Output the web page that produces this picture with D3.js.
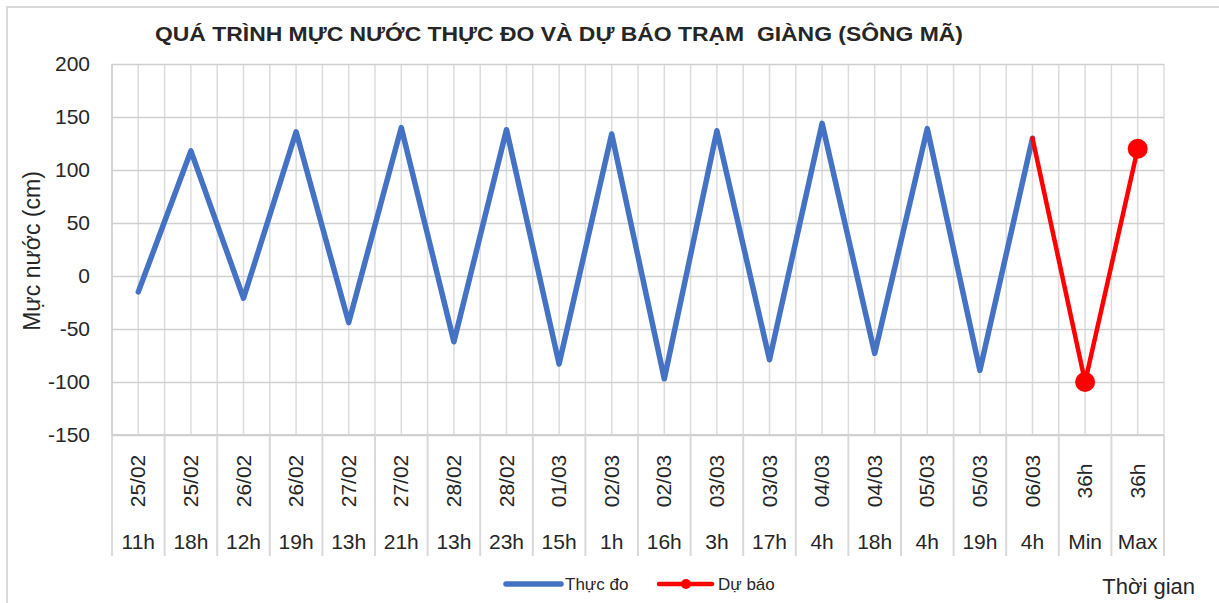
<!DOCTYPE html>
<html lang="vi">
<head>
<meta charset="UTF-8">
<title>Giàng</title>
<style>
  body { margin: 0; background: #fff; }
  text { font-family: "Liberation Sans", Arial, sans-serif; fill: #262626; }
</style>
</head>
<body>
<script src="https://d3js.org/d3.v7.min.js"></script>
<script>
	// ngay / gio (2 tang nhan truc x)
	var dates = ["25/02","25/02","26/02","26/02","27/02","27/02","28/02","28/02","01/03","02/03",
	             "02/03","03/03","03/03","04/03","04/03","05/03","05/03","06/03","36h","36h"];
	var hours = ["11h","18h","12h","19h","13h","21h","13h","23h","15h","1h",
	             "16h","3h","17h","4h","18h","4h","19h","4h","Min","Max"];
	// muc nuoc thuc do (cm)
	var thucDo = [-15,118,-21,136,-44,140,-62,138,-83,134,-97,137,-79,144,-73,139,-89,130];
	// du bao: bat dau tu diem thuc do cuoi
	var duBaoIdx = [17,18,19];
	var duBao = [130,-100,120];
	var yTicks = [-150,-100,-50,0,50,100,150,200];

	var width = 1219, height = 603;
	var plot = {left: 112, right: 1164, top: 64, bottom: 435};

	var svg = d3.select("body").append("svg")
		.attr("width", width).attr("height", height);

	// khung ngoai
	svg.append("rect").attr("x",7).attr("y",7).attr("width",1300).attr("height",700)
		.attr("fill","none").attr("stroke","#d9d9d9").attr("stroke-width",2);

	var x = d3.scaleBand().domain(d3.range(dates.length)).range([plot.left, plot.right]);
	var bw = x.bandwidth();
	var cx = function(i){ return x(i) + bw/2; };
	var y = d3.scaleLinear().domain([-150,200]).range([plot.bottom, plot.top]);

	// luoi doc: ranh gioi va tam moi o
	var vlines = [];
	for(var i=0;i<dates.length;i++){ vlines.push(x(i)); vlines.push(cx(i)); }
	vlines.push(plot.right);
	svg.append("g").selectAll("line").data(vlines).enter().append("line")
		.attr("x1",function(d){return d;}).attr("x2",function(d){return d;})
		.attr("y1",plot.top).attr("y2",plot.bottom)
		.attr("stroke","#dcdcdc").attr("stroke-width",1.5);

	// luoi ngang + nhan truc y
	var yAxis = d3.axisLeft(y).tickValues(yTicks).tickSize(-(plot.right-plot.left)).tickPadding(22)
		.tickFormat(function(d){ return String(d); });
	var gy = svg.append("g").attr("transform","translate("+plot.left+",0)").call(yAxis);
	gy.select(".domain").remove();
	gy.selectAll(".tick line").attr("stroke","#d0d0d0").attr("stroke-width",1.5);
	gy.selectAll(".tick text").attr("font-size",21).attr("fill","#262626")
		.attr("font-family","Liberation Sans, Arial, sans-serif");

	// truc trai + day
	svg.append("line").attr("x1",plot.left).attr("x2",plot.left).attr("y1",plot.top).attr("y2",556)
		.attr("stroke","#cfcfcf").attr("stroke-width",1.5);
	svg.append("line").attr("x1",plot.left).attr("x2",plot.right).attr("y1",plot.bottom).attr("y2",plot.bottom)
		.attr("stroke","#d0d0d0").attr("stroke-width",2);

	// vach phan cach nhan truc x
	var seps = d3.range(1, dates.length).map(function(i){ return x(i); }).concat([plot.right]);
	svg.append("g").selectAll("line").data(seps).enter().append("line")
		.attr("x1",function(d){return d;}).attr("x2",function(d){return d;})
		.attr("y1",plot.bottom).attr("y2",556)
		.attr("stroke","#d9d9d9").attr("stroke-width",2);

	// nhan ngay (xoay)
	svg.append("g").selectAll("text").data(dates).enter().append("text")
		.attr("transform",function(d,i){ return "translate("+(cx(i)+7)+",481) rotate(-90)"; })
		.attr("text-anchor","middle").attr("font-size",21)
		.text(function(d){return d;});
	// nhan gio
	svg.append("g").selectAll("text").data(hours).enter().append("text")
		.attr("x",function(d,i){return cx(i);}).attr("y",549)
		.attr("text-anchor","middle").attr("font-size",21)
		.text(function(d){return d;});

	// duong thuc do
	var line = d3.line().x(function(d){return cx(d[0]);}).y(function(d){return y(d[1]);});
	svg.append("path").datum(thucDo.map(function(v,i){return [i,v];}))
		.attr("d",line).attr("fill","none").attr("stroke","#4472c4")
		.attr("stroke-width",5.5).attr("stroke-linejoin","round").attr("stroke-linecap","round");

	// duong du bao
	var db = duBao.map(function(v,i){return [duBaoIdx[i],v];});
	svg.append("path").datum(db)
		.attr("d",line).attr("fill","none").attr("stroke","#ff0000")
		.attr("stroke-width",4.5).attr("stroke-linejoin","round").attr("stroke-linecap","round");
	svg.append("g").selectAll("circle").data(db.slice(1)).enter().append("circle")
		.attr("cx",function(d){return cx(d[0]);}).attr("cy",function(d){return y(d[1]);})
		.attr("r",10).attr("fill","#ff0000");

	// tieu de
	svg.append("text").attr("x",559).attr("y",41).attr("text-anchor","middle")
		.attr("font-size",21).attr("font-weight","bold").attr("fill","#000")
		.attr("textLength",808).attr("lengthAdjust","spacingAndGlyphs")
		.attr("xml:space","preserve")
		.text("QUÁ TRÌNH MỰC NƯỚC THỰC ĐO VÀ DỰ BÁO TRẠM  GIÀNG (SÔNG MÃ)");

	// ten truc
	svg.append("text").attr("transform","translate(40,251) rotate(-90)")
		.attr("text-anchor","middle").attr("font-size",23).attr("fill","#000")
		.text("Mực nước (cm)");
	svg.append("text").attr("x",1195).attr("y",594).attr("text-anchor","end")
		.attr("font-size",22).attr("fill","#262626").text("Thời gian");

	// chu thich
	var lg = svg.append("g");
	lg.append("line").attr("x1",506).attr("x2",561).attr("y1",584).attr("y2",584)
		.attr("stroke","#4472c4").attr("stroke-width",5.5).attr("stroke-linecap","round");
	lg.append("text").attr("x",565).attr("y",590).attr("font-size",17).text("Thực đo");
	lg.append("line").attr("x1",659).attr("x2",712).attr("y1",584).attr("y2",584)
		.attr("stroke","#ff0000").attr("stroke-width",4.5).attr("stroke-linecap","round");
	lg.append("circle").attr("cx",686).attr("cy",584).attr("r",5).attr("fill","#ff0000");
	lg.append("text").attr("x",718).attr("y",590).attr("font-size",17).text("Dự báo");
</script>
</body>
</html>
